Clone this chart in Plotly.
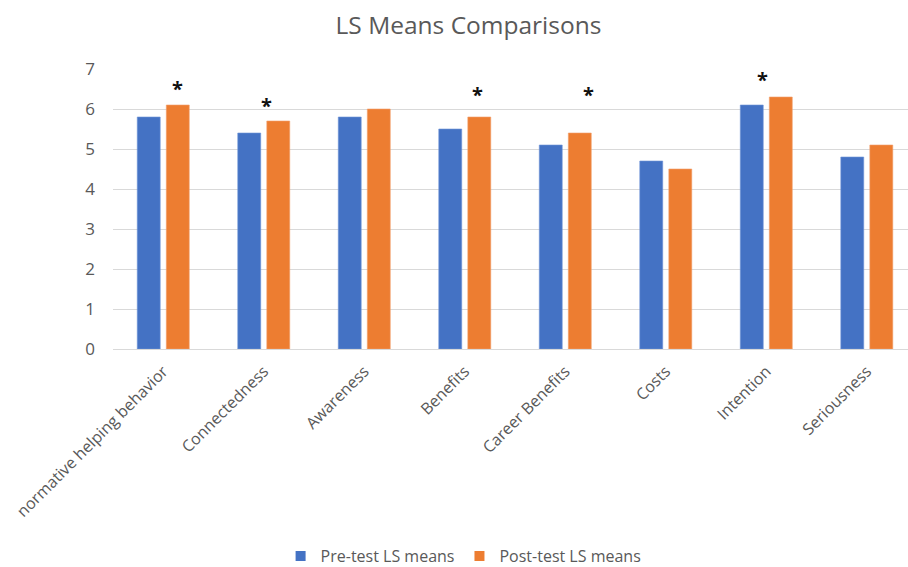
import plotly.graph_objects as go

# LS means before and after the intervention, per scale
categories = [
    "normative helping behavior",
    "Connectedness",
    "Awareness",
    "Benefits",
    "Career Benefits",
    "Costs",
    "Intention",
    "Seriousness",
]
pre_test = [5.8, 5.4, 5.8, 5.5, 5.1, 4.7, 6.1, 4.8]
post_test = [6.1, 5.7, 6.0, 5.8, 5.4, 4.5, 6.3, 5.1]

# scales with a significant pre/post difference, and the height of their marker
significant = ["normative helping behavior", "Connectedness", "Benefits",
               "Career Benefits", "Intention"]
star_heights = [6.62, 6.2, 6.47, 6.47, 6.83]
star_shift = [0.14, 0.03, 0.13, 0.23, -0.04]

y_ticks = [0, 1, 2, 3, 4, 5, 6, 7]

FONT = "Open Sans"
GREY = "#595959"
BLUE = "#4472C4"
ORANGE = "#ED7D31"

fig = go.Figure()
fig.add_trace(go.Bar(
    name="Pre-test LS means", x=categories, y=pre_test, showlegend=False,
    marker=dict(color=BLUE, line=dict(color="#6F93D6", width=0.6)),
))
fig.add_trace(go.Bar(
    name="Post-test LS means", x=categories, y=post_test, showlegend=False,
    marker=dict(color=ORANGE, line=dict(color="#F2A06B", width=0.6)),
))

# legend entries with small square swatches
for name, color in [("Pre-test LS means", BLUE), ("Post-test LS means", ORANGE)]:
    fig.add_trace(go.Scatter(
        x=[None], y=[None], mode="markers", name=name,
        marker=dict(symbol="square", size=10, color=color),
    ))

for cat, h, dx in zip(significant, star_heights, star_shift):
    fig.add_annotation(
        x=categories.index(cat) + dx, y=h, xref="x", yref="y",
        text="<b>*</b>", showarrow=False,
        font=dict(family=FONT, size=20, color="#111111"),
        yanchor="middle", yshift=-4,
    )

fig.update_layout(
    width=908, height=567,
    margin=dict(l=113, r=0, t=69, b=218, autoexpand=False),
    paper_bgcolor="white", plot_bgcolor="white",
    font=dict(family=FONT, size=14, color=GREY),
    title=dict(text="LS Means Comparisons", x=468.5 / 908, xanchor="center",
               y=1 - 25 / 567, yanchor="middle",
               font=dict(family=FONT, size=24.5, color=GREY)),
    barmode="group", bargap=0.422, bargroupgap=0.21,
    legend=dict(orientation="h", x=0.441, xanchor="center",
                y=-0.74, yanchor="middle",
                font=dict(family=FONT, size=16, color=GREY),
                itemwidth=30, traceorder="normal"),
    showlegend=True,
)
fig.update_xaxes(
    type="category", range=[-0.5, 7.41], tickangle=-45, automargin=False,
    showgrid=False, showline=False, ticks="", ticklabelstandoff=9,
    tickfont=dict(family=FONT, size=16, color=GREY),
)
fig.update_yaxes(
    range=[0, 7], tickvals=y_ticks, showgrid=True, gridcolor="#D9D9D9",
    gridwidth=1, zeroline=True, zerolinecolor="#D9D9D9", zerolinewidth=1,
    showline=False, ticks="", ticklabelstandoff=17, automargin=False,
    tickfont=dict(family=FONT, size=17, color=GREY),
)

fig.write_html("out.html")
